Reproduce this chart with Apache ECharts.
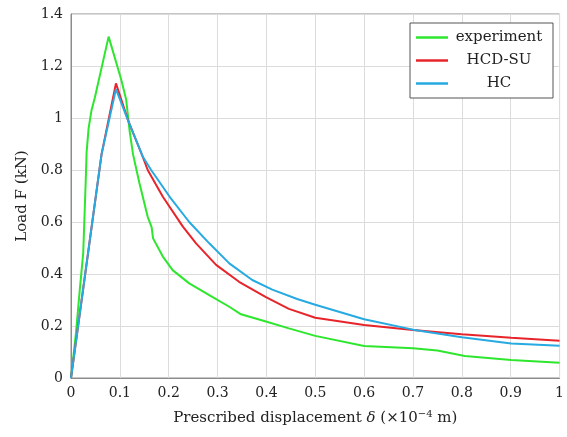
<!DOCTYPE html>
<html>
<head>
<meta charset="utf-8">
<script src="https://cdn.jsdelivr.net/npm/echarts@6/dist/echarts.min.js"></script>
<style>
  html, body { margin: 0; padding: 0; background: #fff; }
  #chart { width: 567px; height: 437px; }
</style>
</head>
<body>
<div id="chart"></div>
<script>
// Load–displacement curves: experiment vs. two model variants
const seriesNames = ['experiment', 'HCD-SU', 'HC'];

const experimentX = [0, 0.010, 0.018, 0.025, 0.030, 0.032, 0.036, 0.042, 0.049, 0.077, 0.103, 0.113, 0.120, 0.127, 0.140, 0.157, 0.165, 0.168, 0.188, 0.208, 0.242, 0.283, 0.324, 0.348, 0.399, 0.446, 0.50, 0.60, 0.70, 0.75, 0.806, 0.901, 1.0];
const experimentY = [0, 0.17, 0.34, 0.48, 0.75, 0.87, 0.96, 1.03, 1.08, 1.313, 1.146, 1.07, 0.95, 0.86, 0.75, 0.62, 0.58, 0.537, 0.467, 0.415, 0.364, 0.319, 0.274, 0.245, 0.217, 0.191, 0.162, 0.123, 0.114, 0.106, 0.085, 0.069, 0.059];

const hcdsuX = [0, 0.0625, 0.092, 0.117, 0.147, 0.157, 0.188, 0.229, 0.256, 0.297, 0.344, 0.399, 0.446, 0.50, 0.60, 0.70, 0.80, 0.901, 1.0];
const hcdsuY = [0, 0.86, 1.133, 0.99, 0.85, 0.80, 0.697, 0.582, 0.518, 0.435, 0.37, 0.311, 0.266, 0.232, 0.204, 0.185, 0.168, 0.155, 0.143];

const hcX = [0, 0.0625, 0.092, 0.117, 0.147, 0.164, 0.202, 0.242, 0.283, 0.324, 0.371, 0.412, 0.463, 0.50, 0.60, 0.70, 0.80, 0.901, 1.0];
const hcY = [0, 0.86, 1.111, 0.99, 0.851, 0.80, 0.697, 0.60, 0.518, 0.441, 0.377, 0.340, 0.304, 0.282, 0.226, 0.186, 0.157, 0.133, 0.124];

const xTickLabels = ['0', '0.1', '0.2', '0.3', '0.4', '0.5', '0.6', '0.7', '0.8', '0.9', '1'];
const yTickLabels = ['0', '0.2', '0.4', '0.6', '0.8', '1', '1.2', '1.4'];

const colors = ['#2ee62e', '#e8242b', '#27a9e1'];
const FONT = 'DejaVu Serif';

function pairs(xs, ys) { return xs.map((x, i) => [x, ys[i]]); }

const chart = echarts.init(document.getElementById('chart'), null, { renderer: 'canvas' });

chart.setOption({
  animation: false,
  backgroundColor: '#fff',
  grid: {
    left: 71, right: 5, top: 14, bottom: 59,
    show: true, borderColor: '#8c8c8c', borderWidth: 1, backgroundColor: 'transparent'
  },
  xAxis: {
    type: 'value', min: 0, max: 1, interval: 0.1,
    name: 'Prescribed displacement {i|δ} (×10{sup|−4} m)',
    nameLocation: 'middle', nameGap: 31,
    nameTextStyle: {
      fontFamily: FONT, fontSize: 15, color: '#222',
      rich: {
        i: { fontFamily: FONT, fontSize: 15, fontStyle: 'italic', color: '#222' },
        sup: { fontFamily: FONT, fontSize: 10, color: '#222', verticalAlign: 'top', padding: [0, 0, 8, 0] }
      }
    },
    axisLine: { show: true, lineStyle: { color: '#8c8c8c', width: 1 } },
    axisTick: { show: false },
    axisLabel: {
      fontFamily: FONT, fontSize: 14, color: '#222', margin: 8,
      formatter: v => xTickLabels[Math.round(v * 10)]
    },
    splitLine: { show: true, lineStyle: { color: '#dcdcdc', width: 1 } }
  },
  yAxis: {
    type: 'value', min: 0, max: 1.4, interval: 0.2,
    name: 'Load F (kN)',
    nameLocation: 'middle', nameGap: 40, nameRotate: 90,
    nameTextStyle: { fontFamily: FONT, fontSize: 15, color: '#222' },
    axisLine: { show: true, lineStyle: { color: '#8c8c8c', width: 1 } },
    axisTick: { show: false },
    axisLabel: {
      fontFamily: FONT, fontSize: 14, color: '#222', margin: 8,
      formatter: v => yTickLabels[Math.round(v * 5)]
    },
    splitLine: { show: true, lineStyle: { color: '#dcdcdc', width: 1 } }
  },
  legend: {
    orient: 'vertical',
    left: 410, top: 23,
    padding: [7, 8, 7, 6],
    icon: 'rect',
    itemWidth: 32, itemHeight: 2.5, itemGap: 8,
    backgroundColor: '#fff',
    borderColor: '#555', borderWidth: 1,
    data: seriesNames,
    formatter: '{c|{name}}',
    textStyle: {
      fontFamily: FONT, fontSize: 15, color: '#222',
      rich: { c: { fontFamily: FONT, fontSize: 15, color: '#222', width: 92, align: 'center', lineHeight: 18 } }
    }
  },
  series: [
    { name: seriesNames[0], type: 'line', data: pairs(experimentX, experimentY), symbol: 'none',
      lineStyle: { color: colors[0], width: 2 }, itemStyle: { color: colors[0] } },
    { name: seriesNames[1], type: 'line', data: pairs(hcdsuX, hcdsuY), symbol: 'none',
      lineStyle: { color: colors[1], width: 2 }, itemStyle: { color: colors[1] } },
    { name: seriesNames[2], type: 'line', data: pairs(hcX, hcY), symbol: 'none',
      lineStyle: { color: colors[2], width: 2 }, itemStyle: { color: colors[2] } }
  ]
});
</script>
</body>
</html>
